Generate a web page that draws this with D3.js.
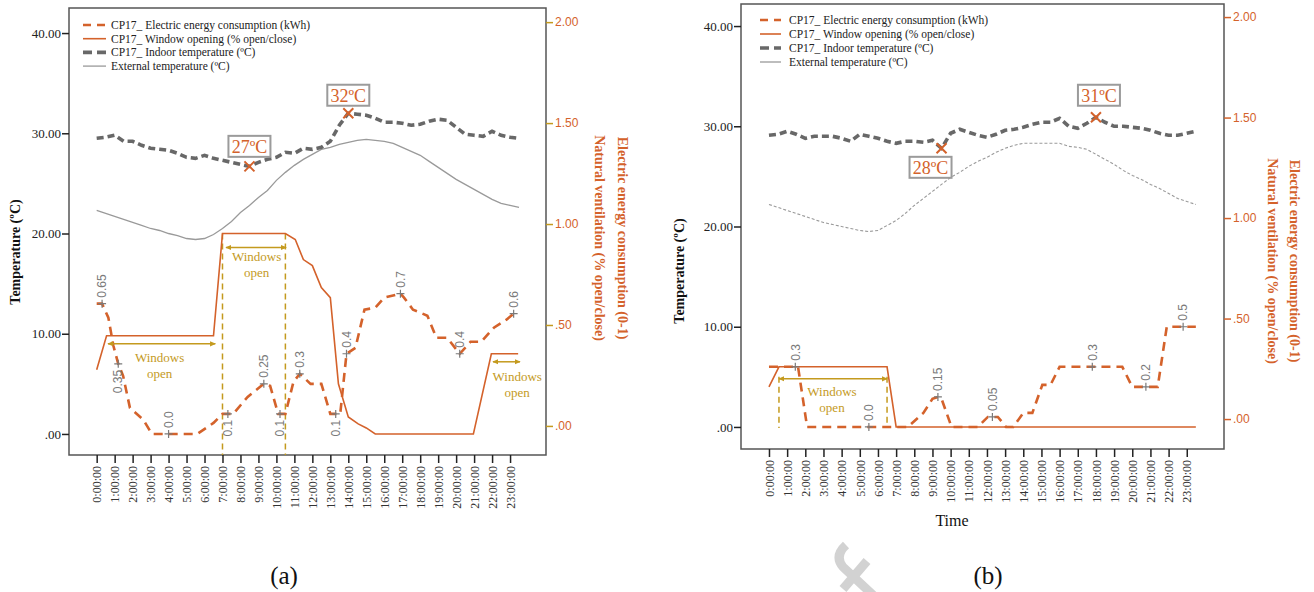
<!DOCTYPE html>
<html>
<head>
<meta charset="utf-8">
<script src="https://cdn.jsdelivr.net/npm/d3@7"></script>
<style>
  body { margin: 0; background: #fff; }
  svg { display: block; }
</style>
</head>
<body>
<svg id="chart" width="1314" height="592"></svg>
<script>
// ---- shared axes -------------------------------------------------------
const hours = d3.range(0, 24, 0.5);                 // half-hour samples 0:00 .. 23:30
const hourTicks = d3.range(0, 24);
const hourLabels = hourTicks.map(h => `${h}:00:00`);
const tempTicks = [0, 10, 20, 30, 40];
const shareTicks = [0, 0.5, 1, 1.5, 2];

const legendLabels = [
  "CP17_ Electric energy consumption (kWh)",
  "CP17_ Window opening (% open/close)",
  "CP17_ Indoor temperature (ºC)",
  "External temperature (ºC)"
];

// ---- case (a) ----------------------------------------------------------
const indoorA = [29.5,29.6,29.8,29.2,29.2,28.8,28.5,28.4,28.3,28.0,
                 27.6,27.5,27.8,27.5,27.3,27.1,26.9,26.7,27.1,27.4,
                 27.6,28.1,28.0,28.5,28.4,28.6,29.2,30.8,32.0,31.9,
                 31.8,31.5,31.1,31.1,31.0,30.8,30.9,31.2,31.4,31.3,
                 30.6,29.9,29.8,29.7,30.2,29.8,29.6,29.5];
const externalA = [22.3,22.0,21.7,21.4,21.1,20.8,20.5,20.3,20.0,19.8,
                   19.5,19.4,19.5,19.9,20.5,21.2,22.1,22.8,23.6,24.3,
                   25.3,26.1,26.8,27.4,27.9,28.4,28.6,28.9,29.1,29.3,
                   29.4,29.3,29.2,29.0,28.6,28.2,27.8,27.2,26.6,26.0,
                   25.4,24.9,24.4,23.9,23.4,23.0,22.8,22.6];
const energyHoursA = [0,0.3,0.65,0.93,1.2,1.47,1.85,2.6,3.07,4.0,
                      5.6,6.5,7.0,7.3,7.6,8.4,9.3,9.65,10.1,10.2,
                      10.5,10.95,11.3,11.9,12.5,13.0,13.3,13.55,13.9,14.4,
                      14.9,15.5,16.0,16.9,17.1,17.6,18.4,18.9,19.5,20.2,
                      20.8,21.4,22.1,22.8,23.2,23.45];
const energyA = [0.65,0.65,0.58,0.44,0.35,0.29,0.13,0.07,0,0,
                 0,0.055,0.1,0.1,0.1,0.185,0.25,0.24,0.1,0.1,
                 0.1,0.26,0.3,0.25,0.25,0.1,0.1,0.1,0.4,0.43,
                 0.62,0.63,0.68,0.7,0.68,0.62,0.59,0.48,0.48,0.4,
                 0.46,0.46,0.53,0.57,0.6,0.6];
const windowHoursA = [0,0.55,6.5,7.0,10.5,11.05,11.5,12.0,12.5,13.0,13.45,14.0,14.55,15.0,15.5,20.96,21.96,23.45];
const windowA = [0.32,0.49,0.49,1.0,1.0,0.97,0.87,0.84,0.73,0.68,0.25,0.085,0.05,0.03,0,0,0.4,0.4];
const labelHoursA = [0.3,1.2,4.0,7.3,9.3,10.2,11.3,13.3,13.9,16.9,20.2,23.2];
const labelValuesA = [0.65,0.35,0.0,0.1,0.25,0.1,0.3,0.1,0.4,0.7,0.4,0.6];
const labelTextA = ["0.65","0.35","0.0","0.1","0.25","0.1","0.3","0.1","0.4","0.7","0.4","0.6"];

// ---- case (b) ----------------------------------------------------------
const indoorB = [29.1,29.2,29.5,29.2,28.8,29.0,29.0,29.0,28.8,28.5,
                 29.2,29.0,28.8,28.5,28.3,28.5,28.5,28.4,28.6,27.8,
                 29.3,29.7,29.4,29.1,28.9,29.2,29.6,29.7,29.9,30.2,
                 30.4,30.4,30.8,30.0,29.8,30.3,30.9,30.4,30.0,30.0,
                 29.9,29.8,29.6,29.3,29.1,29.1,29.3,29.5];
const externalB = [22.2,21.9,21.6,21.3,21.0,20.7,20.4,20.2,20.0,19.8,
                   19.6,19.5,19.6,20.1,20.6,21.3,22.1,22.8,23.5,24.2,
                   24.9,25.4,26.0,26.5,26.9,27.4,27.8,28.1,28.3,28.3,
                   28.3,28.3,28.3,28.0,27.9,27.7,27.2,26.7,26.2,25.6,
                   25.1,24.7,24.2,23.8,23.3,22.8,22.5,22.2];
const energyHoursB = [0,1.45,1.6,2.1,5.5,7.65,8.5,9.0,9.3,9.5,
                      10.05,11.5,12.05,12.3,12.6,13.05,13.45,14.0,14.5,15.05,
                      15.5,16.0,17.8,19.45,20.0,20.75,21.4,21.9,22.8,23.5];
const energyB = [0.3,0.3,0.3,0,0,0,0.07,0.14,0.15,0.14,
                 0,0,0.05,0.05,0.05,0,0,0.07,0.07,0.21,
                 0.21,0.3,0.3,0.3,0.2,0.2,0.2,0.5,0.5,0.5];
const windowHoursB = [0,0.55,6.5,7.0,23.5];
const windowB = [0.2,0.3,0.3,0,0];
const labelHoursB = [1.45,5.5,9.3,12.3,17.8,20.75,22.8];
const labelValuesB = [0.3,0.0,0.15,0.05,0.3,0.2,0.5];
const labelTextB = ["0.3","0.0","0.15","0.05","0.3","0.2","0.5"];

// ---- styling -----------------------------------------------------------
const ORANGE = "#d4622b";
const GOLD = "#c49a1e";
const INDOOR = "#686868";
const EXTERNAL = "#9a9a9a";
const SERIF = "'Liberation Serif','Times New Roman',serif";
const SANS = "'Liberation Sans',Arial,sans-serif";

const svg = d3.select("#chart");

const defs = svg.append("defs");
defs.append("marker")
  .attr("id", "arrowHead")
  .attr("viewBox", "0 0 8 8")
  .attr("refX", 7).attr("refY", 4)
  .attr("markerWidth", 6).attr("markerHeight", 6)
  .attr("markerUnits", "userSpaceOnUse")
  .attr("orient", "auto-start-reverse")
  .append("path")
  .attr("d", "M0,0.5 L8,4 L0,7.5 Z")
  .attr("fill", GOLD);

const fmtTemp = d => d === 0 ? ".00" : d.toFixed(2);
const fmtShare = d => d.toFixed(2).replace(/^0\./, ".");

function drawPanel(p) {
  const g = svg.append("g");
  const x = d3.scaleLinear().domain(p.xDomain).range([p.left, p.right]);
  const yT = d3.scaleLinear().domain(p.tDomain).range([p.bottom, p.top]);
  // energy and window share a 0–1 scale plotted against the temperature range (1 ↔ 20 ºC)
  const yShare = d3.scaleLinear().domain(p.tDomain.map(d => d / 20)).range([p.bottom, p.top]);
  const yAxisR = d3.scaleLinear().domain(p.rDomain).range([p.bottom, p.top]);

  // frame
  g.append("rect")
    .attr("x", p.left).attr("y", p.top)
    .attr("width", p.right - p.left).attr("height", p.bottom - p.top)
    .attr("fill", "none").attr("stroke", "#555").attr("stroke-width", 1.5);

  // left axis
  const la = g.append("g").attr("transform", `translate(${p.left},0)`)
    .call(d3.axisLeft(yT).tickValues(tempTicks).tickSize(7).tickPadding(1).tickFormat(fmtTemp));
  la.select(".domain").remove();
  la.selectAll("line").attr("stroke", "#222").attr("stroke-width", 1.5);
  la.selectAll("text").attr("fill", "#222").style("font", `13px ${SERIF}`);

  // right axis
  const ra = g.append("g").attr("transform", `translate(${p.right},0)`)
    .call(d3.axisRight(yAxisR).tickValues(shareTicks).tickSize(7).tickPadding(2).tickFormat(fmtShare));
  ra.select(".domain").remove();
  ra.selectAll("line").attr("stroke", p.rTickColor).attr("stroke-width", 1.5);
  ra.selectAll("text").attr("fill", ORANGE).style("font", `12px ${SANS}`);

  // time axis
  const xa = g.append("g").attr("transform", `translate(0,${p.bottom})`)
    .call(d3.axisBottom(x).tickValues(hourTicks).tickSize(8).tickFormat(i => hourLabels[i]));
  xa.select(".domain").remove();
  xa.selectAll("line").attr("stroke", "#222").attr("stroke-width", 1.5);
  xa.selectAll("text")
    .attr("x", -11).attr("y", 0).attr("dy", "0.35em")
    .attr("transform", "rotate(-90)")
    .style("text-anchor", "end")
    .attr("fill", "#333").style("font", `12px ${SERIF}`);

  // window guides (drawn beneath the series)
  p.guides.forEach(gd => {
    g.append("line")
      .attr("x1", x(gd.h)).attr("x2", x(gd.h))
      .attr("y1", yT(gd.t0)).attr("y2", gd.t1 === null ? p.bottom : yT(gd.t1))
      .attr("stroke", GOLD).attr("stroke-width", 1.5).attr("stroke-dasharray", "6,4");
  });

  const tempLine = vals => d3.line().x((d, i) => x(hours[i])).y(d => yT(d))(vals);
  const shareLine = (hs, vals) => d3.line().x((d, i) => x(hs[i])).y(d => yShare(d))(vals);

  // external temperature
  g.append("path").attr("d", tempLine(p.external))
    .attr("fill", "none").attr("stroke", EXTERNAL)
    .attr("stroke-width", p.externalDash ? 1.1 : 1.3)
    .attr("stroke-dasharray", p.externalDash || null);

  // window opening
  g.append("path").attr("d", shareLine(p.windowHours, p.window))
    .attr("fill", "none").attr("stroke", ORANGE).attr("stroke-width", 1.6);

  // electric energy consumption
  g.append("path").attr("d", shareLine(p.energyHours, p.energy))
    .attr("fill", "none").attr("stroke", ORANGE).attr("stroke-width", 2.6)
    .attr("stroke-dasharray", "9,6");

  // indoor temperature
  g.append("path").attr("d", tempLine(p.indoor))
    .attr("fill", "none").attr("stroke", INDOOR).attr("stroke-width", 3.6)
    .attr("stroke-dasharray", "7,4");

  // value labels on the energy series
  p.labelHours.forEach((h, i) => {
    const px = x(h), py = yShare(p.labelValues[i]);
    const up = p.labelSide[i] === "up";
    g.append("path")
      .attr("d", `M${px - 4},${py}H${px + 4}M${px},${py - 4}V${py + 4}`)
      .attr("stroke", "#7a7a7a").attr("stroke-width", 1.2);
    g.append("text")
      .attr("transform", `translate(${px},${py + (up ? -6 : 6)}) rotate(-90)`)
      .attr("dy", "0.35em")
      .attr("text-anchor", up ? "start" : "end")
      .attr("fill", "#7a7a7a").style("font", `12px ${SANS}`)
      .text(p.labelText[i]);
  });

  // "Windows open" spans
  p.spans.forEach(s => {
    const ay = yT(s.t);
    g.append("line")
      .attr("x1", x(s.from)).attr("x2", x(s.to)).attr("y1", ay).attr("y2", ay)
      .attr("stroke", GOLD).attr("stroke-width", 1.5)
      .attr("marker-start", "url(#arrowHead)").attr("marker-end", "url(#arrowHead)");
    ["Windows", "open"].forEach((w, k) => {
      g.append("text")
        .attr("x", x(s.tx)).attr("y", ay + s.textDy + k * 16)
        .attr("dominant-baseline", "central").attr("text-anchor", "middle")
        .attr("fill", GOLD).style("font", `13px ${SERIF}`)
        .text(w);
    });
  });

  // indoor extremes
  p.peaks.forEach(pk => {
    const i = hours.indexOf(pk.h);
    const px = x(pk.h), py = yT(p.indoor[i]);
    g.append("path")
      .attr("d", `M${px - 5},${py - 5}L${px + 5},${py + 5}M${px - 5},${py + 5}L${px + 5},${py - 5}`)
      .attr("stroke", ORANGE).attr("stroke-width", 2);
    const cx = px + pk.dx, cy = py + pk.dy;
    g.append("rect")
      .attr("x", cx - 21).attr("y", cy - 10.5).attr("width", 42).attr("height", 21)
      .attr("fill", "#fff").attr("stroke", "#9b9b9b").attr("stroke-width", 2);
    g.append("text")
      .attr("x", cx).attr("y", cy).attr("dy", "0.36em")
      .attr("text-anchor", "middle").attr("fill", ORANGE)
      .style("font", `18px ${SERIF}`)
      .text(`${Math.round(p.indoor[i])}ºC`);
  });

  // legend
  const styles = [
    { c: ORANGE, w: 2.6, dash: "8,6" },
    { c: ORANGE, w: 1.6, dash: null },
    { c: INDOOR, w: 3.6, dash: "9,5" },
    { c: EXTERNAL, w: 1.3, dash: null }
  ];
  legendLabels.forEach((t, i) => {
    const ly = p.legend.y + i * p.legend.dy;
    g.append("line")
      .attr("x1", p.legend.x1).attr("x2", p.legend.x2).attr("y1", ly).attr("y2", ly)
      .attr("stroke", styles[i].c).attr("stroke-width", styles[i].w)
      .attr("stroke-dasharray", styles[i].dash);
    g.append("text")
      .attr("x", p.legend.tx).attr("y", ly).attr("dy", "0.35em")
      .attr("fill", "#222").style("font", `11.5px ${SERIF}`)
      .text(t);
  });

  // axis titles
  g.append("text")
    .attr("transform", `translate(${p.leftTitle.x},${p.leftTitle.y}) rotate(-90)`)
    .attr("text-anchor", "middle").attr("dy", "0.35em")
    .attr("fill", "#111").style("font", `bold 14px ${SERIF}`)
    .text("Temperature (ºC)");
  [["Electric energy consumption (0-1)", p.rightTitle.x1],
   ["Natural ventilation (% open/close)", p.rightTitle.x2]].forEach(([t, tx]) => {
    g.append("text")
      .attr("transform", `translate(${tx},${p.rightTitle.y}) rotate(90)`)
      .attr("text-anchor", "middle").attr("dy", "0.35em")
      .attr("fill", ORANGE).style("font", `bold 14px ${SERIF}`)
      .text(t);
  });
  if (p.xTitle) {
    g.append("text")
      .attr("x", p.xTitle.x).attr("y", p.xTitle.y)
      .attr("text-anchor", "middle").attr("fill", "#111")
      .style("font", `16px ${SERIF}`).text("Time");
  }
  g.append("text")
    .attr("x", p.caption.x).attr("y", p.caption.y)
    .attr("text-anchor", "middle").attr("fill", "#111")
    .style("font", `25px ${SERIF}`).text(p.caption.text);
}

drawPanel({
  left: 69, right: 546, top: 8, bottom: 455,
  xDomain: [-1.54, 25.0], tDomain: [-2.1, 42.5], rDomain: [-0.144, 2.07],
  rTickColor: GOLD,
  indoor: indoorA, external: externalA, externalDash: null,
  energyHours: energyHoursA, energy: energyA,
  windowHours: windowHoursA, window: windowA,
  labelHours: labelHoursA, labelValues: labelValuesA, labelText: labelTextA,
  labelSide: ["up","down","up","down","up","down","up","down","up","up","up","up"],
  guides: [{ h: 7.0, t0: 20, t1: null }, { h: 10.5, t0: 20, t1: null }],
  spans: [
    { from: 0.63, to: 6.6, t: 9.0, tx: 3.5, textDy: 14 },
    { from: 7.2, to: 10.54, t: 18.6, tx: 8.9, textDy: 9 },
    { from: 22.05, to: 23.55, t: 7.2, tx: 23.4, textDy: 15 }
  ],
  peaks: [{ h: 8.5, dx: 0, dy: -20 }, { h: 14, dx: 0, dy: -18 }],
  legend: { x1: 83, x2: 106, tx: 111, y: 25, dy: 13.7 },
  leftTitle: { x: 15, y: 252 },
  rightTitle: { x1: 623, x2: 600, y: 238 },
  xTitle: null,
  caption: { x: 284, y: 584, text: "(a)" }
});

drawPanel({
  left: 741, right: 1224, top: 4, bottom: 449,
  xDomain: [-1.54, 25.05], tDomain: [-2.2, 42.2], rDomain: [-0.149, 2.065],
  rTickColor: ORANGE,
  indoor: indoorB, external: externalB, externalDash: "3,2",
  energyHours: energyHoursB, energy: energyB,
  windowHours: windowHoursB, window: windowB,
  labelHours: labelHoursB, labelValues: labelValuesB, labelText: labelTextB,
  labelSide: ["up","up","up","up","up","up","up"],
  guides: [{ h: 0.55, t0: 5.0, t1: -0.1 }, { h: 6.5, t0: 5.0, t1: -0.1 }],
  spans: [{ from: 0.55, to: 6.5, t: 4.8, tx: 3.47, textDy: 13 }],
  peaks: [{ h: 9.5, dx: -11, dy: 19 }, { h: 18, dx: 3, dy: -22 }],
  legend: { x1: 760, x2: 781, tx: 789, y: 20, dy: 14 },
  leftTitle: { x: 679, y: 271 },
  rightTitle: { x1: 1295, x2: 1273, y: 261 },
  xTitle: { x: 952, y: 526 },
  caption: { x: 988, y: 584, text: "(b)" }
});

// faint watermark between the panels
svg.append("path")
  .attr("d", "M846,545 Q834,556 843,567 L874,596 M867,561 L843,589")
  .attr("fill", "none").attr("stroke", "#d2d2d2").attr("stroke-width", 9);
</script>
</body>
</html>
